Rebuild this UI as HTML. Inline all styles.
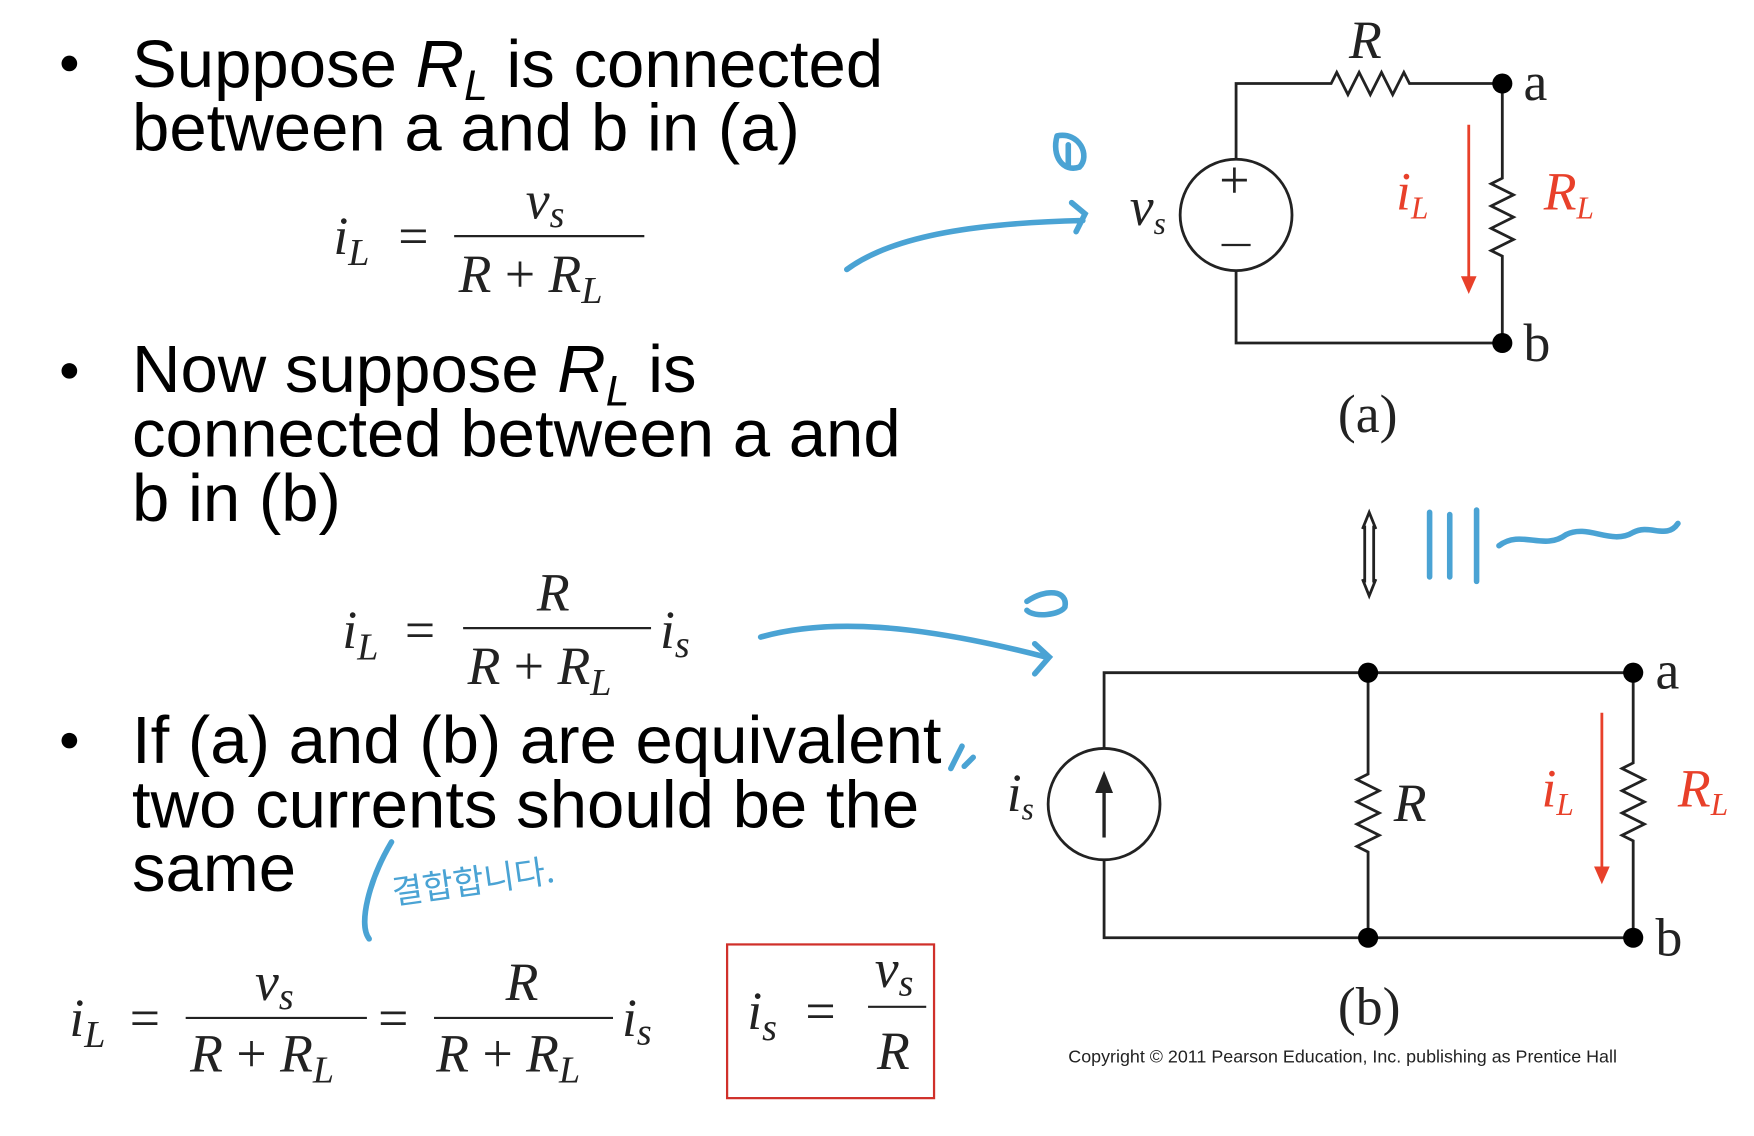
<!DOCTYPE html>
<html><head><meta charset="utf-8"><style>
html,body{margin:0;padding:0;background:#fff}
svg{display:block}
.t{font-family:"Liberation Sans",sans-serif;font-size:60px;fill:#000}
.m{font-family:"Liberation Serif",serif;font-size:48px;fill:#222}
.i{font-style:italic}
.w{stroke:#222;stroke-width:2.5;fill:none}
.r{fill:#e8402a}
.b{stroke:#4aa3d4;stroke-width:5;fill:none;stroke-linecap:round}
</style></head><body>
<svg width="1754" height="1136" viewBox="0 0 1568 1020" preserveAspectRatio="none">
<g>
<circle cx="62" cy="57" r="7"/>
<text class="t" x="118" y="78">Suppose <tspan class="i">R</tspan><tspan font-size="38" dy="12" class="i">L</tspan><tspan dy="-12"> is connected</tspan></text>
<text class="t" x="118" y="135">between a and b in (a)</text>
</g>
<g>
<text class="m i" x="298" y="228">i<tspan font-size="34" dy="10">L</tspan></text>
<text class="m" x="356" y="228">=</text>
<text class="m i" x="470" y="196">v<tspan font-size="34" dy="8">s</tspan></text>
<line x1="406" y1="212" x2="576" y2="212" stroke="#222" stroke-width="2"/>
<text class="m i" x="410" y="262">R <tspan font-style="normal">+</tspan> R<tspan font-size="34" dy="10">L</tspan></text>
</g>
<g>
<circle cx="62" cy="333" r="7"/>
<text class="t" x="118" y="352">Now suppose <tspan class="i">R</tspan><tspan font-size="38" dy="12" class="i">L</tspan><tspan dy="-12"> is</tspan></text>
<text class="t" x="118" y="410">connected between a and</text>
<text class="t" x="118" y="468">b in (b)</text>
</g>
<g>
<text class="m i" x="306" y="582">i<tspan font-size="34" dy="10">L</tspan></text>
<text class="m" x="362" y="582">=</text>
<text class="m i" x="480" y="548">R</text>
<line x1="414" y1="564" x2="582" y2="564" stroke="#222" stroke-width="2"/>
<text class="m i" x="418" y="614">R <tspan font-style="normal">+</tspan> R<tspan font-size="34" dy="10">L</tspan></text>
<text class="m i" x="590" y="582">i<tspan font-size="34" dy="8">s</tspan></text>
</g>
<g>
<circle cx="62" cy="665" r="7"/>
<text class="t" x="118" y="685">If (a) and (b) are equivalent</text>
<text class="t" x="118" y="743">two currents should be the</text>
<text class="t" x="118" y="800">same</text>
</g>
<g>
<text class="m i" x="62" y="930">i<tspan font-size="34" dy="10">L</tspan></text>
<text class="m" x="116" y="930">=</text>
<text class="m i" x="228" y="898">v<tspan font-size="34" dy="8">s</tspan></text>
<line x1="166" y1="914" x2="328" y2="914" stroke="#222" stroke-width="2"/>
<text class="m i" x="170" y="962">R <tspan font-style="normal">+</tspan> R<tspan font-size="34" dy="10">L</tspan></text>
<text class="m" x="338" y="930">=</text>
<text class="m i" x="452" y="898">R</text>
<line x1="388" y1="914" x2="548" y2="914" stroke="#222" stroke-width="2"/>
<text class="m i" x="390" y="962">R <tspan font-style="normal">+</tspan> R<tspan font-size="34" dy="10">L</tspan></text>
<text class="m i" x="556" y="930">i<tspan font-size="34" dy="8">s</tspan></text>
</g>
<g>
<rect x="650" y="848" width="185" height="138" fill="none" stroke="#d0302a" stroke-width="2"/>
<text class="m i" x="668" y="924">i<tspan font-size="34" dy="10">s</tspan></text>
<text class="m" x="720" y="924">=</text>
<text class="m i" x="782" y="886">v<tspan font-size="34" dy="8">s</tspan></text>
<line x1="776" y1="904" x2="828" y2="904" stroke="#222" stroke-width="2"/>
<text class="m i" x="784" y="960">R</text>
</g>
<g>
<path class="w" d="M1105 143V75H1190l5 -10 10 20 10 -20 10 20 10 -20 10 20 10 -20 5 10H1343V160l-10 5 20 10 -20 10 20 10 -20 10 20 10 -20 10 10 5V308H1105V243"/>
<circle class="w" cx="1105" cy="193" r="50"/>
<text class="m" x="1090" y="178" font-size="34">+</text>
<line x1="1092" y1="220" x2="1118" y2="220" stroke="#222" stroke-width="2"/>
<circle cx="1343" cy="75" r="9"/><circle cx="1343" cy="308" r="9"/>
<text class="m" x="1362" y="90" font-size="38">a</text>
<text class="m" x="1362" y="324" font-size="38">b</text>
<text class="m i" x="1206" y="52" font-size="38">R</text>
<text class="m i" x="1010" y="202" font-size="40">v<tspan font-size="28" dy="8">s</tspan></text>
<line x1="1313" y1="112" x2="1313" y2="250" stroke="#e8402a" stroke-width="2.5"/>
<path class="r" d="M1306 248L1320 248 1313 264Z"/>
<text class="m i" x="1248" y="188" font-size="40" style="fill:#e8402a">i<tspan font-size="28" dy="8">L</tspan></text>
<text class="m i" x="1380" y="188" font-size="40" style="fill:#e8402a">R<tspan font-size="28" dy="8">L</tspan></text>
<text class="m" x="1196" y="388" font-size="40">(a)</text>
</g>
<g>
<path class="w" d="M1218 475L1224 460 1230 475M1218 520L1224 535 1230 520M1220 472V523M1228 472V523" stroke-width="2"/>
</g>
<g>
<path class="w" d="M987 672V604H1460V685l-10 5 20 10 -20 10 20 10 -20 10 20 10 -20 10 10 5V842H987V772"/>
<path class="w" d="M1223 604V695l-10 5 20 10 -20 10 20 10 -20 10 20 10 -20 10 10 5V842"/>
<circle class="w" cx="987" cy="722" r="50"/>
<line x1="987" y1="752" x2="987" y2="700" stroke="#222" stroke-width="3"/>
<path d="M979 712L987 692 995 712Z" fill="#222"/>
<circle cx="1223" cy="604" r="9"/><circle cx="1460" cy="604" r="9"/>
<circle cx="1223" cy="842" r="9"/><circle cx="1460" cy="842" r="9"/>
<text class="m" x="1480" y="618" font-size="38">a</text>
<text class="m" x="1480" y="858" font-size="38">b</text>
<text class="m i" x="1246" y="737" font-size="38">R</text>
<text class="m i" x="900" y="728" font-size="40">i<tspan font-size="28" dy="8">s</tspan></text>
<line x1="1432" y1="640" x2="1432" y2="780" stroke="#e8402a" stroke-width="2.5"/>
<path class="r" d="M1425 778L1439 778 1432 794Z"/>
<text class="m i" x="1378" y="724" font-size="40" style="fill:#e8402a">i<tspan font-size="28" dy="8">L</tspan></text>
<text class="m i" x="1500" y="724" font-size="40" style="fill:#e8402a">R<tspan font-size="28" dy="8">L</tspan></text>
<text class="m" x="1196" y="920" font-size="40">(b)</text>
<text x="955" y="954" font-family="Liberation Sans,sans-serif" font-size="16" fill="#222">Copyright © 2011 Pearson Education, Inc. publishing as Prentice Hall</text>
</g>
<g>
<path class="b" d="M757 242C800 210 880 200 968 198M958 182L970 192 962 208"/>
<path class="b" d="M945 122C940 140 950 155 965 150C975 140 965 118 945 122M955 130V148"/>
<path class="b" d="M680 572C740 555 820 560 935 590M925 578L938 590 925 605"/>
<path class="b" d="M918 540C935 528 955 530 952 545C948 552 925 555 918 548"/>
<path class="b" d="M1278 460V518M1296 462V518M1320 458V522"/>
<path class="b" d="M1340 490C1360 475 1380 495 1400 480C1420 470 1440 490 1460 478C1475 470 1490 485 1500 470" stroke-width="3.5"/>
<path class="b" d="M350 756C330 790 320 830 330 843" stroke-width="3"/>
<text x="352" y="812" font-family="'Noto Sans CJK KR',sans-serif" font-size="30" fill="#4aa3d4" transform="rotate(-8 352 812)">결합합니다.</text>
<path class="b" d="M850 690L860 670M862 688L870 680" stroke-width="4"/>
</g>
</svg>
</body></html>
